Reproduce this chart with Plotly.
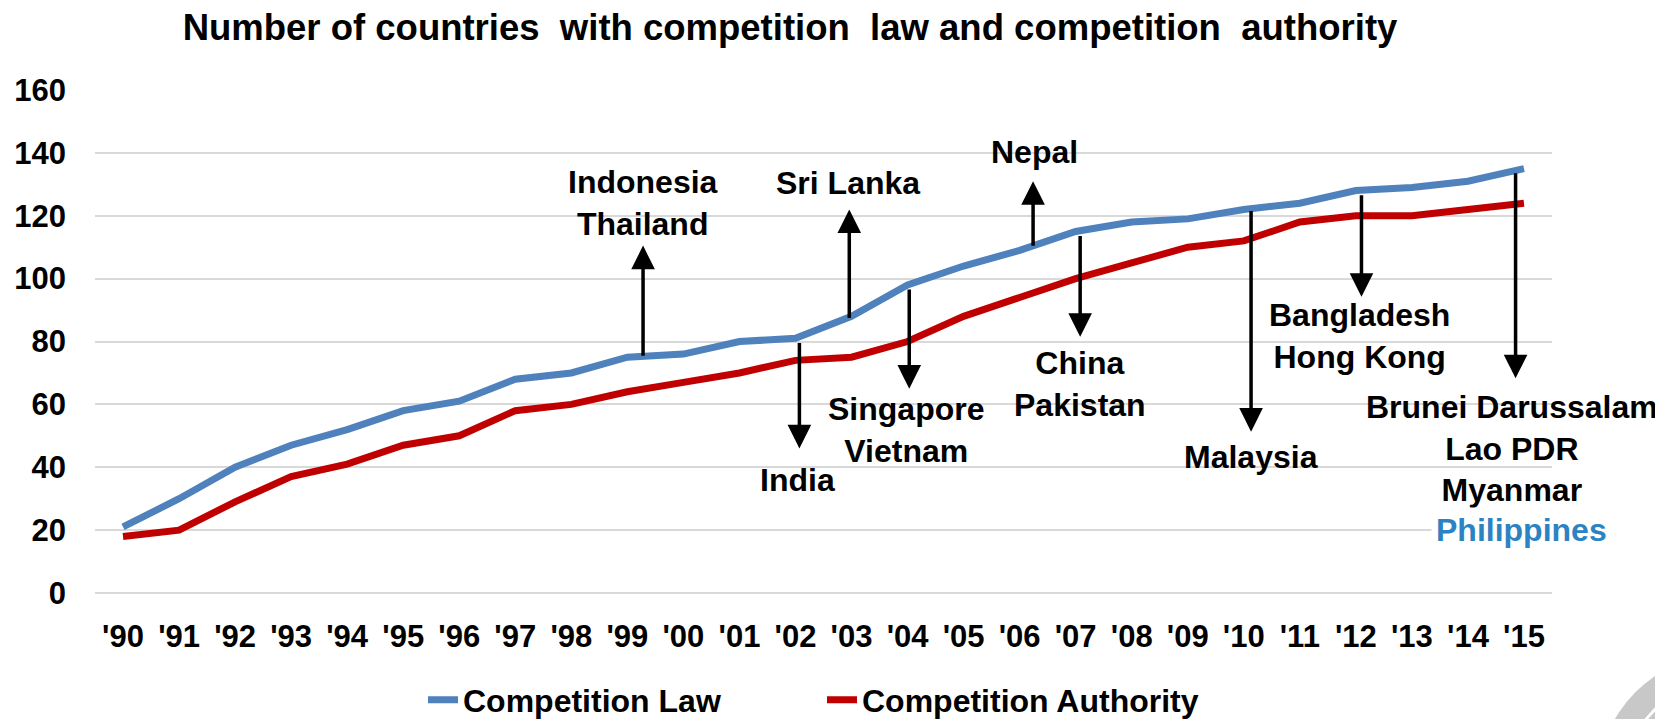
import plotly.graph_objects as go

# ---- data ----
years = list(range(1990, 2016))
tick_labels = ["'90", "'91", "'92", "'93", "'94", "'95", "'96", "'97", "'98", "'99",
               "'00", "'01", "'02", "'03", "'04", "'05", "'06", "'07", "'08", "'09",
               "'10", "'11", "'12", "'13", "'14", "'15"]
competition_law = [21, 30, 40, 47, 52, 58, 61, 68, 70, 75,
                   76, 80, 81, 88, 98, 104, 109, 115, 118, 119,
                   122, 124, 128, 129, 131, 135]
competition_authority = [18, 20, 29, 37, 41, 47, 50, 58, 60, 64,
                         67, 70, 74, 75, 80, 88, 94, 100, 105, 110,
                         112, 118, 120, 120, 122, 124]

# country call-outs
callout_text = ["Indonesia<br>Thailand", "India", "Sri Lanka", "Singapore<br>Vietnam", "Nepal",
                "China<br>Pakistan", "Malaysia", "Bangladesh<br>Hong Kong",
                "Brunei Darussalam<br>Lao PDR<br>Myanmar"]
callout_arrow_x = [1999.28, 2002.07, 2002.96, 2004.03, 2006.24, 2007.08, 2010.13, 2012.10, 2014.85]
callout_arrow_from = [75, 80, 87, 97, 110, 114, 122, 127, 134]
callout_arrow_to = [110.5, 46, 122, 65, 131, 81.5, 51.3, 94.2, 68.3]
callout_text_x = [1999.27, 2002.04, 2002.94, 2003.98, 2006.27, 2007.08, 2010.13, 2012.07, 2014.78]
callout_text_y = [124.2, 35.9, 130.3, 51.9, 140.4, 66.4, 43.4, 81.8, 46.0]
extra_text = "Philippines"
extra_x = 2014.96
extra_y = 20.0

y_ticks = [0, 20, 40, 60, 80, 100, 120, 140, 160]

BLUE = "#4F81BD"
RED = "#C00000"
FONT = "Liberation Sans, Arial, sans-serif"

fig = go.Figure()
fig.add_trace(go.Scatter(x=years, y=competition_law, mode="lines", name="Competition Law",
                         line=dict(color=BLUE, width=7)))
fig.add_trace(go.Scatter(x=years, y=competition_authority, mode="lines", name="Competition Authority",
                         line=dict(color=RED, width=7)))

annotations = []
for ax_, a0, a1 in zip(callout_arrow_x, callout_arrow_from, callout_arrow_to):
    annotations.append(dict(x=ax_, y=a1, ax=ax_, ay=a0, xref="x", yref="y", axref="x", ayref="y",
                            text="", showarrow=True, arrowhead=2, arrowsize=1.35, arrowwidth=3.5,
                            arrowcolor="black", standoff=0, startstandoff=0))
for t, tx, ty in zip(callout_text, callout_text_x, callout_text_y):
    annotations.append(dict(x=tx, y=ty, xref="x", yref="y", text=t, showarrow=False,
                            xanchor="center", yanchor="middle",
                            font=dict(family=FONT, size=32, color="black", weight="bold")))
annotations.append(dict(x=extra_x, y=extra_y, xref="x", yref="y", text=extra_text, showarrow=False,
                        xanchor="center", yanchor="middle", bgcolor="white", borderpad=4,
                        font=dict(family=FONT, size=32, color="#2C83C3", weight="bold")))

# layout geometry (figure pixel coordinates)
W, H = 1663, 719
ml, mr, mt, mb = 87, 119, 82, 134
pw, ph = W - ml - mr, H - mt - mb


def px(xp):
    return (xp - ml) / pw


def py(yp):
    return (H - mb - yp) / ph


# decorative corner arc
cx, cy = 1724, 780
shapes = [
    dict(type="circle", xref="paper", yref="paper", layer="above",
         x0=px(cx - 136), x1=px(cx + 136), y0=py(cy + 136), y1=py(cy - 136),
         fillcolor="#C8C8C8", line=dict(width=0)),
    dict(type="circle", xref="paper", yref="paper", layer="above",
         x0=px(cx - 110), x1=px(cx + 110), y0=py(cy + 110), y1=py(cy - 110),
         fillcolor="rgba(0,0,0,0)", line=dict(width=3, color="white")),
]

fig.update_layout(
    width=W, height=H,
    paper_bgcolor="white", plot_bgcolor="white",
    margin=dict(l=ml, r=mr, t=mt, b=mb, pad=0, autoexpand=False),
    font=dict(family=FONT, size=31, color="black", weight="bold"),
    title=dict(text="Number of countries\u00a0 with competition\u00a0 law and competition\u00a0 authority",
               x=782 / W, xref="container", xanchor="center",
               y=1 - 19 / H, yref="container", yanchor="middle",
               font=dict(family=FONT, size=36.5, color="black", weight="bold")),
    xaxis=dict(range=[1989.5, 2015.5], tickmode="array", tickvals=years, ticktext=tick_labels,
               showgrid=False, zeroline=False, showline=False, ticks="", automargin=False,
               tickfont=dict(size=31, weight="bold"), ticklabelstandoff=22),
    yaxis=dict(range=[0, 160], tickmode="array", tickvals=y_ticks, automargin=False,
               showgrid=True, gridcolor="#D9D9D9", gridwidth=2,
               zeroline=True, zerolinecolor="#D9D9D9", zerolinewidth=2,
               showline=False, ticks="", tickfont=dict(size=31, weight="bold"),
               ticklabelstandoff=28),
    legend=dict(orientation="h", x=px(415), xanchor="left", entrywidth=354, entrywidthmode="pixels",
                y=py(692), yanchor="middle", font=dict(size=32, weight="bold"),
                bgcolor="rgba(0,0,0,0)"),
    annotations=annotations,
    shapes=shapes,
)

fig.write_html("out.html")
